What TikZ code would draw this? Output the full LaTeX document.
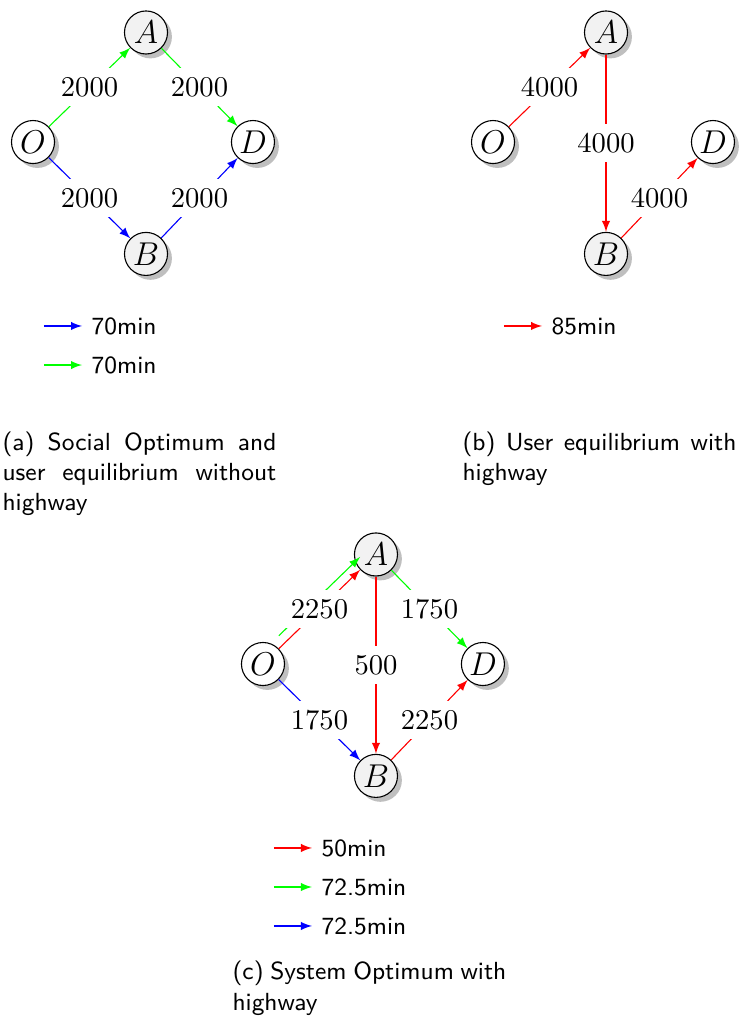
\documentclass[tikz,border=0pt]{standalone}
\usetikzlibrary{shadows}
\begin{document}
\begin{tikzpicture}[
  city/.style={circle,draw,fill=white,minimum size=0.55cm,inner sep=0pt,font=\large,
    drop shadow={shadow xshift=1.6pt,shadow yshift=-1.6pt}},
  hub/.style={city,fill=gray!10},
  flow/.style={fill=white,text=black,font=\fontsize{10.4}{12}\selectfont},
  key/.style={right,font=\small\sffamily},
  caption/.style={anchor=base west,inner sep=0pt,text width=3.5cm,align=justify,
    font=\small\sffamily}]
\useasboundingbox (0,0) rectangle (9.457,-13.023);

\begin{scope}[shift={(1.866,-1.815)}]
\node[hub] (Aa) at (0,1.40) {$A$};
\node[city] (Oa) at (-1.444,0) {$O$};
\node[city] (Da) at (1.367,0) {$D$};
\node[hub] (Ba) at (0,-1.43) {$B$};
\draw[green,-latex] (Oa)--node[flow]{2000}(Aa);
\draw[green,-latex] (Aa)--node[flow]{2000}(Da);
\draw[blue,-latex] (Oa)--node[flow]{2000}(Ba);
\draw[blue,-latex] (Ba)--node[flow]{2000}(Da);
\coordinate (ka1) at (-1.304,-2.351);
\coordinate (ka2) at (-1.304,-2.850);
\node[key] (ta1) at (-0.818,-2.351) {70min};
\node[key] (ta2) at (-0.818,-2.850) {70min};
\draw[blue,-latex] (ka1)--(ta1);
\draw[green,-latex] (ka2)--(ta2);
\node[caption] (capa) at (-1.84,-3.936) {(a) Social Optimum and user equilibrium without highway};
\end{scope}

\begin{scope}[shift={(7.745,-1.815)}]
\node[hub] (Ab) at (0,1.40) {$A$};
\node[city] (Ob) at (-1.444,0) {$O$};
\node[city] (Db) at (1.367,0) {$D$};
\node[hub] (Bb) at (0,-1.43) {$B$};
\draw[red,-latex] (Ob)--node[flow]{4000}(Ab);
\draw[red,-latex] (Ab)--node[flow]{4000}(Bb);
\draw[red,-latex] (Bb)--node[flow]{4000}(Db);
\coordinate (kb1) at (-1.304,-2.351);
\node[key] (tb1) at (-0.818,-2.351) {85min};
\draw[red,-latex] (kb1)--(tb1);
\node[caption] (capb) at (-1.84,-3.936) {(b) User equilibrium with highway};
\end{scope}

\begin{scope}[shift={(4.805,-8.486)}]
\node[hub] (Ac) at (0,1.40) {$A$};
\node[city] (Oc) at (-1.444,0) {$O$};
\node[city] (Dc) at (1.367,0) {$D$};
\node[hub] (Bc) at (0,-1.43) {$B$};
\draw[green,-latex,transform canvas={yshift=4.7pt}] (Oc)--(Ac);
\draw[red,-latex] (Oc)--node[flow]{2250}(Ac);
\draw[green,-latex] (Ac)--node[flow]{1750}(Dc);
\draw[red,-latex] (Ac)--node[flow]{500}(Bc);
\draw[blue,-latex] (Oc)--node[flow]{1750}(Bc);
\draw[red,-latex] (Bc)--node[flow]{2250}(Dc);
\coordinate (kc1) at (-1.304,-2.351);
\coordinate (kc2) at (-1.304,-2.850);
\coordinate (kc3) at (-1.304,-3.348);
\node[key] (tc1) at (-0.818,-2.351) {50min};
\node[key] (tc2) at (-0.818,-2.850) {72.5min};
\node[key] (tc3) at (-0.818,-3.348) {72.5min};
\draw[red,-latex] (kc1)--(tc1);
\draw[green,-latex] (kc2)--(tc2);
\draw[blue,-latex] (kc3)--(tc3);
\node[caption] (capc) at (-1.84,-4.038) {(c) System Optimum with highway};
\end{scope}
\end{tikzpicture}
\end{document}
